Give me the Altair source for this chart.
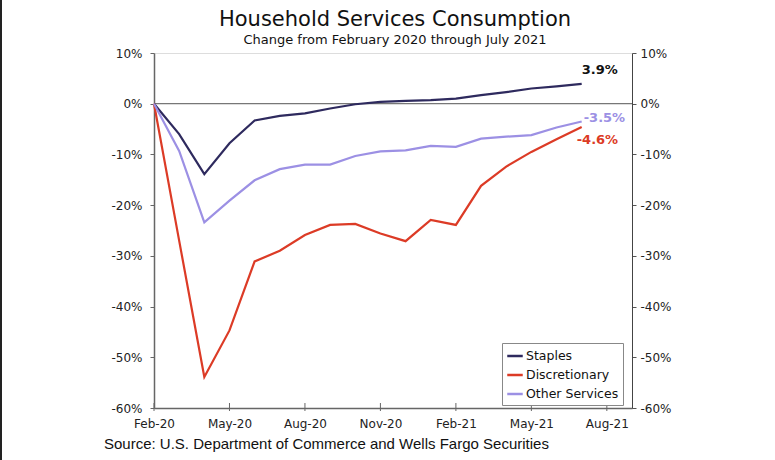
import altair as alt
import pandas as pd

# Monthly change in household services consumption since Feb 2020 (%)
months = ["Feb-20", "Mar-20", "Apr-20", "May-20", "Jun-20", "Jul-20", "Aug-20", "Sep-20",
          "Oct-20", "Nov-20", "Dec-20", "Jan-21", "Feb-21", "Mar-21", "Apr-21", "May-21",
          "Jun-21", "Jul-21"]
staples = [0.0, -6.0, -13.9, -7.8, -3.3, -2.4, -1.9, -0.95, -0.1, 0.35, 0.55, 0.7,
           1.0, 1.7, 2.3, 3.0, 3.4, 3.9]
discretionary = [0.0, -27.0, -53.9, -44.7, -31.1, -29.0, -25.9, -23.9, -23.7, -25.6,
                 -27.1, -22.9, -23.9, -16.2, -12.4, -9.5, -7.0, -4.6]
other_services = [0.0, -9.3, -23.4, -19.1, -15.1, -12.9, -12.0, -12.0, -10.3, -9.4,
                  -9.2, -8.3, -8.5, -6.9, -6.5, -6.2, -4.7, -3.5]

series_names = ["Staples", "Discretionary", "Other Services"]
series_colors = ["#2E2A5E", "#DC3B26", "#9C90E4"]

tick_labels = ["Feb-20", "May-20", "Aug-20", "Nov-20", "Feb-21", "May-21", "Aug-21"]
y_ticks = [10, 0, -10, -20, -30, -40, -50, -60]

title_text = "Household Services Consumption"
subtitle_text = "Change from February 2020 through July 2021"
source_text = "Source: U.S. Department of Commerce and Wells Fargo Securities"

W, H = 478, 355
FONT = "DejaVu Sans"

rows = []
for name, vals in zip(series_names, [staples, discretionary, other_services]):
    for i, (m, v) in enumerate(zip(months, vals)):
        rows.append({"month": m, "idx": i, "series": name, "value": v})
df = pd.DataFrame(rows)

tick_idx = [3 * k for k in range(len(tick_labels))]
label_js = "[" + ",".join(f"'{t}'" for t in tick_labels) + "]"

x_scale = alt.Scale(domain=[0, 19], nice=False, zero=False)
y_scale = alt.Scale(domain=[-60, 10], nice=False)

x_axis = alt.Axis(values=tick_idx, labelExpr=f"{label_js}[round(datum.value / 3)]",
                  title=None, tickSize=0, domainColor="#666", domainWidth=1.5,
                  labelFont=FONT, labelFontSize=12, labelColor="#222", labelPadding=10,
                  labelFlush=False, grid=False)
y_left = alt.Axis(values=y_ticks, labelExpr="datum.value + '%'", title=None,
                  tickSize=4, tickColor="#666", domainColor="#666", domainWidth=1.5,
                  labelFont=FONT, labelFontSize=12, labelColor="#222", labelPadding=8,
                  labelFlush=False, grid=False, orient="left")
y_right = alt.Axis(values=y_ticks, labelExpr="datum.value + '%'", title=None,
                   tickSize=4, tickColor="#555", domainColor="#444", domainWidth=1,
                   labelFont=FONT, labelFontSize=12, labelColor="#222", labelPadding=4,
                   labelFlush=False, grid=False, orient="right")

zero_line = alt.Chart(pd.DataFrame({"y": [0]})).mark_rule(
    color="#555", strokeWidth=1
).encode(y=alt.Y("y:Q", scale=y_scale, axis=y_right))

lines = alt.Chart(df).mark_line(strokeWidth=2.2).encode(
    x=alt.X("idx:Q", scale=x_scale, axis=x_axis),
    y=alt.Y("value:Q", scale=y_scale, axis=y_left),
    color=alt.Color("series:N", scale=alt.Scale(domain=series_names, range=series_colors),
                    sort=series_names,
                    legend=alt.Legend(title=None, orient="none", legendX=348, legendY=290,
                                      fillColor="white", strokeColor="#888", padding=4,
                                      symbolType="stroke", symbolStrokeWidth=2.5,
                                      symbolSize=240, labelFont=FONT, labelFontSize=12.5,
                                      labelColor="#111", rowPadding=3, labelOffset=2)),
    order="idx:Q",
)

last = len(months) - 1


def end_label(values, color, dx, dy):
    d = pd.DataFrame({"idx": [last], "value": [values[-1]],
                      "text": [f"{values[-1]:.1f}%"]})
    return alt.Chart(d).mark_text(
        align="left", baseline="middle", dx=dx, dy=dy, font=FONT,
        fontSize=13, fontWeight="bold", color=color
    ).encode(x=alt.X("idx:Q", scale=x_scale),
             y=alt.Y("value:Q", scale=y_scale, axis=None),
             text="text:N")


labels = (end_label(staples, "#111111", 0, -14)
          + end_label(other_services, series_colors[2], 2, -3)
          + end_label(discretionary, series_colors[1], -5, 13))

# small tick marks crossing the bottom axis
x_ticks = alt.Chart(pd.DataFrame({"idx": tick_idx})).mark_rule(
    color="#666", strokeWidth=1
).encode(x=alt.X("idx:Q", scale=x_scale), y=alt.value(H - 5), y2=alt.value(H + 3))


def note(text, x, y, size, font=FONT, align="center"):
    return alt.Chart(pd.DataFrame({"t": [text]})).mark_text(
        align=align, baseline="middle", font=font, fontSize=size, color="#111"
    ).encode(x=alt.value(x), y=alt.value(y), text="t:N")


title = note(title_text, 241, -33, 21)
subtitle = note(subtitle_text, 241, -13, 13)
source = note(source_text, -50, 391, 15, font="Liberation Sans", align="left")

edge = alt.Chart(pd.DataFrame({"a": [0]})).mark_rule(color="#222", strokeWidth=2).encode(
    x=alt.value(-153), y=alt.value(-53), y2=alt.value(407)
)

chart = alt.layer(
    zero_line, lines, labels, x_ticks, title, subtitle, source, edge
).resolve_axis(
    y="independent"
).properties(
    width=W, height=H,
    autosize=alt.AutoSizeParams(type="none"),
    padding={"left": 154, "top": 53, "right": 143, "bottom": 52},
).configure_view(stroke="#BBBBBB", strokeWidth=2).configure(background="white")

chart.save("out.html", embed_options={"renderer": "svg", "actions": False})
